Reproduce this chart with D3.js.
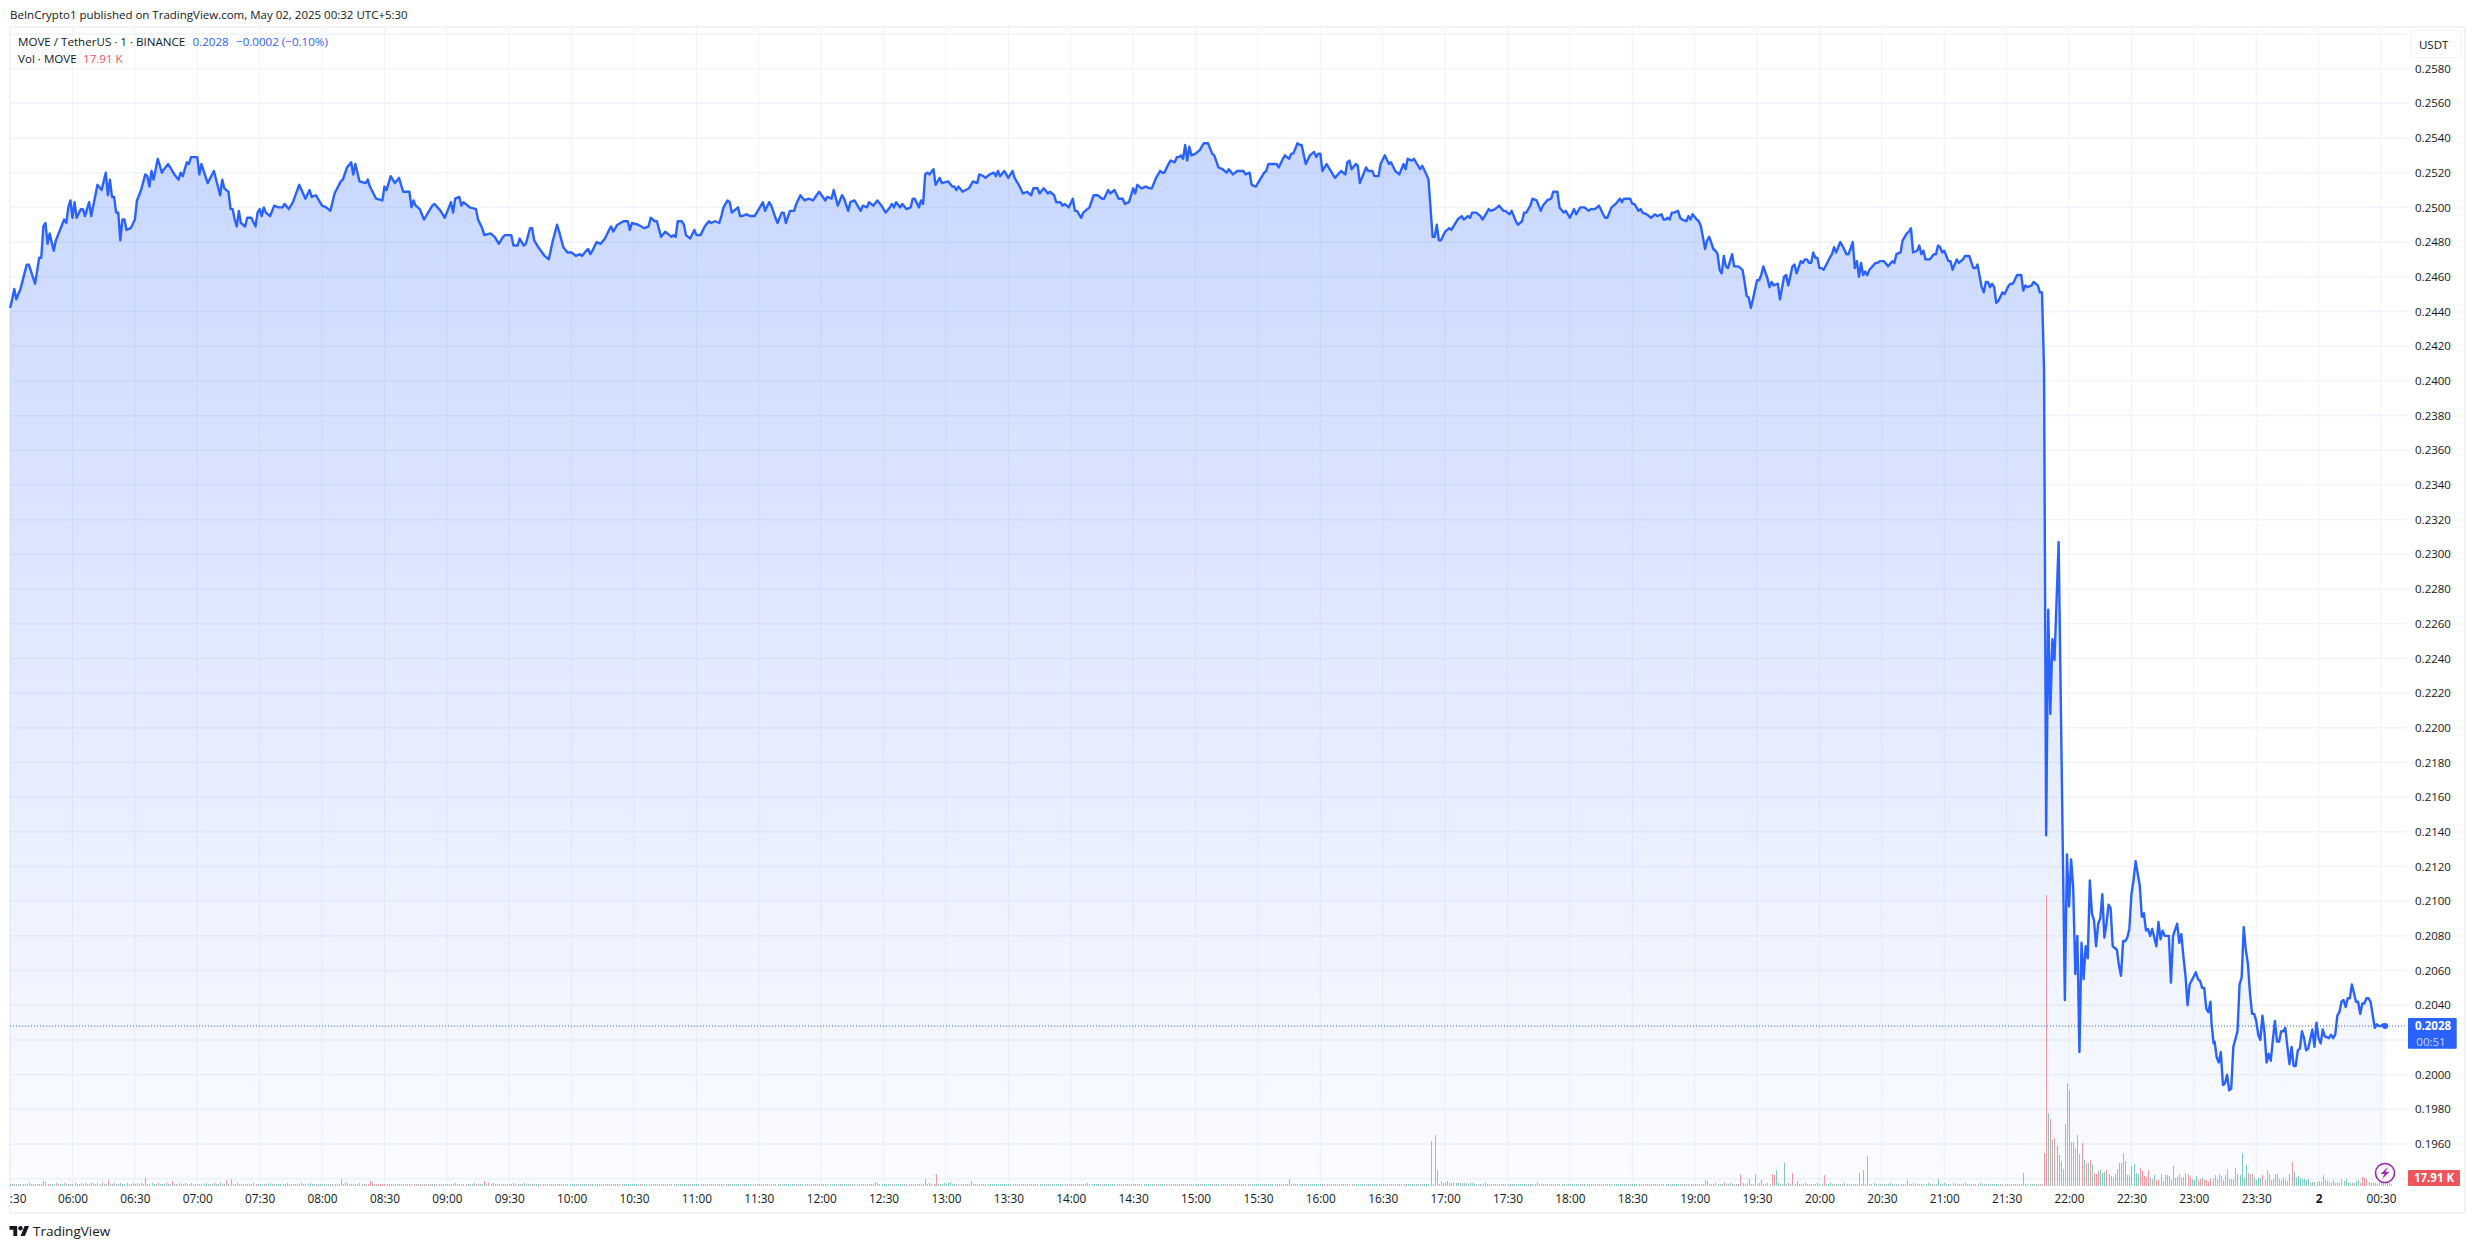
<!DOCTYPE html>
<html><head><meta charset="utf-8">
<script src="https://cdn.jsdelivr.net/npm/d3@7/dist/d3.min.js"></script>
<style>html,body{margin:0;padding:0;background:#fff}svg{display:block}text{font-family:"Open Sans",sans-serif;fill:#131722}</style>
</head><body><svg id="c" width="2475" height="1249"></svg>
<script>
// minute offset from 05:30, close price
const closeByMinute=[[0,.2442],[1,.2447],[2,.2453],[3,.2447],[5,.2453],[8,.2467],[9,.2467],[12,.2456],[14,.2471],[15,.2471],[16,.2489],[17,.2491],[18,.2479],[19,.2485],[21,.2475],[22,.2481],[26,.2493],[27,.2491],[28,.25],[29,.2504],[30,.2494],[31,.2503],[32,.2494],[34,.2499],[35,.2499],[36,.2495],[38,.2503],[39,.2495],[41,.2507],[42,.2513],[44,.251],[46,.252],[47,.2507],[48,.2516],[49,.2506],[50,.2506],[51,.2497],[52,.2497],[53,.2481],[54,.2493],[55,.2493],[56,.2487],[58,.2488],[60,.2493],[61,.2504],[63,.251],[65,.2519],[66,.2518],[67,.2512],[68,.2521],[69,.2516],[71,.2528],[73,.252],[74,.2522],[76,.2525],[78,.2521],[79,.2519],[81,.2516],[82,.252],[83,.2518],[85,.2526],[86,.2525],[87,.2529],[90,.2529],[91,.2519],[92,.2525],[95,.2514],[98,.2521],[101,.2507],[102,.2516],[103,.2511],[105,.2509],[106,.2499],[107,.2499],[108,.2493],[109,.2489],[110,.2498],[111,.2491],[113,.2489],[114,.2494],[116,.2494],[118,.2489],[119,.2497],[120,.2499],[121,.2495],[122,.25],[123,.2497],[125,.2495],[127,.2501],[129,.25],[131,.25],[132,.2502],[134,.2499],[136,.2503],[139,.2513],[142,.2505],[144,.251],[145,.2506],[147,.2507],[150,.2501],[152,.25],[154,.2498],[156,.2508],[159,.2515],[160,.2516],[162,.2523],[164,.2526],[165,.2519],[166,.2525],[168,.2515],[171,.2514],[172,.2516],[173,.2512],[176,.2505],[179,.2504],[180,.2512],[181,.251],[183,.2518],[185,.2514],[187,.2517],[189,.2509],[192,.2509],[193,.25],[194,.2504],[195,.2501],[197,.2499],[199,.2493],[201,.2497],[203,.2501],[204,.2502],[207,.2498],[209,.2494],[212,.2503],[213,.2497],[214,.2505],[216,.2506],[217,.2501],[218,.2503],[221,.25],[224,.2499],[225,.2493],[227,.2488],[228,.2484],[231,.2485],[233,.2483],[235,.2479],
[237,.2483],[238,.2484],[241,.2484],[242,.2478],[244,.2478],[245,.2482],[247,.2478],[248,.2479],[250,.2488],[251,.2488],[252,.2481],[254,.2477],[257,.2472],[259,.247],[261,.2481],[263,.249],[264,.2486],[266,.2477],[268,.2474],[270,.2474],[272,.2472],[274,.2473],[275,.2472],[277,.2475],[278,.2476],[279,.2473],[280,.2475],[282,.248],[284,.2479],[286,.2482],[288,.2487],[289,.2489],[290,.2486],[292,.249],[295,.2492],[297,.2492],[298,.2487],[299,.2491],[302,.249],[305,.2488],[307,.2489],[308,.2494],[310,.2492],[311,.2492],[313,.2483],[315,.2486],[318,.2483],[319,.2484],[320,.2483],[321,.2492],[323,.2492],[324,.249],[325,.2484],[327,.2482],[329,.2487],[330,.2484],[332,.2484],[334,.2489],[336,.2492],[337,.2491],[339,.2492],[341,.2491],[342,.2495],[343,.25],[345,.2504],[346,.2503],[347,.2497],[350,.25],[351,.2495],[352,.2495],[354,.2496],[356,.2495],[358,.2495],[360,.2499],[362,.2503],[363,.2498],[365,.2503],[366,.2501],[368,.2494],[369,.2491],[371,.2497],[372,.2497],[373,.2491],[375,.2498],[377,.2498],[378,.2502],[380,.2507],
[382,.2504],[384,.2505],[386,.2504],[389,.2509],[392,.2504],[393,.2506],[395,.2505],[396,.251],[398,.2501],[400,.2507],[401,.2505],[403,.2498],[404,.2503],[406,.2504],[409,.2498],[410,.2501],[412,.25],[413,.2503],[415,.2501],[417,.2504],[419,.2501],[421,.2497],[423,.25],[424,.2502],[425,.25],[426,.2503],[428,.25],[429,.2502],[431,.2499],[433,.25],[434,.2505],[435,.2505],[437,.25],[438,.2504],[439,.2502],[440,.2519],[441,.252],[442,.2519],[444,.2522],[445,.2513],[447,.2517],[448,.2514],[451,.2515],[453,.2512],[454,.2512],[455,.251],[456,.2512],[458,.2509],[461,.2511],[463,.2515],[465,.2514],[466,.2519],[468,.2518],[469,.2517],[471,.2519],[473,.252],[474,.2518],[475,.2521],[476,.2518],[478,.2521],[480,.2517],[482,.2521],[483,.2517],[485,.2513],[487,.2508],[489,.2509],[491,.2507],[492,.2511],[494,.2511],[495,.2508],[497,.2511],[499,.2508],[500,.2509],[502,.2507],[503,.2503],[505,.2503],[506,.2501],[507,.2502],[509,.25],[511,.2505],[512,.2498],[513,.2498],[515,.2494],[516,.2497],[518,.2499],[519,.25],[521,.2507],[523,.2507],[525,.2505],[526,.2505],[528,.251],[529,.2508],[531,.251],[533,.2505],[535,.2505],[536,.2502],[538,.2503],[540,.2511],[541,.2508],[542,.2513],[544,.2511],[546,.2512],[548,.2511],[549,.2511],[551,.2517],[553,.2521],[554,.252],[555,.252],[557,.2525],[558,.2527],[560,.2526],[561,.2529],[562,.2529],[563,.253],[564,.2528],[565,.2536],[566,.2527],[567,.2535],[568,.253],[570,.2531],[572,.2533],[574,.2537],[576,.2537],[578,.2531],[579,.253],[581,.2523],[583,.2522],[585,.252],[586,.2522],[588,.2519],[590,.2521],[593,.2521],[594,.2519],[596,.252],[597,.2513],[599,.2512],[601,.2516],[603,.252],[604,.2521],[605,.2525],[607,.2525],[609,.2525],[610,.2523],[612,.2528],[613,.253],[615,.2528],[616,.2531],[617,.2531],[619,.2537],[620,.2536],[621,.2536],[623,.2525],[625,.253],[627,.2532],[628,.2529],[629,.2531],[630,.2531],[631,.2521],[633,.2525],[635,.2521],[637,.2517],[640,.2521],[642,.2519],[643,.2526],[644,.2527],[645,.2522],[647,.2525],[648,.2524],[649,.2514],[652,.2523],[653,.2521],[655,.2521],[656,.2518],[658,.2518],[659,.2525],[661,.253],[663,.2525],[664,.2526],[666,.2521],[668,.2519],[670,.2525],[671,.2522],[672,.2528],[674,.2527],[675,.2528],[678,.2522],[679,.2524],[681,.2519],[682,.2516],[684,.2483],[685,.2483],[686,.249],[687,.2481],[688,.2481],[690,.2486],[692,.2488],[693,.2487],[696,.2493],[698,.2495],[699,.2493],[701,.2495],[702,.2494],[703,.2497],[705,.2497],[707,.2495],[708,.2493],[710,.2497],[711,.2499],[712,.2498],[714,.2499],[716,.2501],[718,.2498],[719,.2498],[721,.2496],[722,.2498],[724,.2492],[725,.249],[727,.2492],[728,.2497],[729,.2497],[731,.2501],[732,.2505],[734,.2504],[736,.2498],[737,.2501],[739,.2504],[741,.2505],[742,.2509],[744,.2509],[745,.25],[747,.2497],[748,.2498],[750,.2494],[752,.2499],[753,.2496],[755,.25],[757,.25],[759,.2498],[760,.2499],[762,.2499],[764,.2501],
[766,.2496],[767,.2494],[768,.2494],[770,.25],[772,.2502],[774,.2505],[775,.2503],[776,.2505],[779,.2505],[780,.2502],[781,.2502],[783,.2498],[784,.2499],[785,.2497],[787,.2496],[789,.2494],[791,.2496],[792,.2495],[794,.2496],[795,.2493],[796,.2493],[797,.2494],[798,.2493],[799,.2497],[800,.2497],[802,.2498],[803,.2494],[804,.2493],[806,.2492],[807,.2495],[808,.2493],[809,.2496],[811,.2493],[812,.2492],[813,.2489],[815,.2476],[816,.2481],[817,.2483],[819,.2476],[820,.2475],[821,.2473],[822,.2464],[823,.2462],[824,.2472],[825,.2466],[826,.2465],[828,.2473],[829,.2466],[831,.2466],[833,.2464],[834,.2457],[835,.2449],[836,.2448],[837,.2442],[838,.2447],[840,.2458],[841,.2458],[842,.2461],[843,.2466],[845,.2459],[846,.2454],[847,.2457],[848,.2455],[850,.2456],[851,.2447],[853,.246],[854,.2461],[855,.2455],[857,.2466],[858,.2467],[859,.2462],[861,.2469],[862,.2468],[863,.247],[864,.247],[865,.2468],[866,.2468],[867,.2474],[868,.2471],[869,.2471],[870,.2465],[871,.2465],[872,.2464],[875,.2471],[876,.2473],[877,.2477],[878,.2474],[880,.248],[881,.2478],[883,.2473],[884,.2473],[886,.248],[887,.2465],[888,.2469],[889,.246],[890,.2468],[891,.2461],[892,.2463],[893,.2461],[894,.2464],[897,.2468],[898,.2468],[899,.2469],[901,.2469],[903,.2466],[905,.2469],[906,.2468],[907,.2473],[909,.2474],[910,.2481],[912,.2485],[913,.2486],[914,.2488],[915,.2474],[917,.2475],[918,.2478],[919,.2473],[920,.2475],[921,.247],[923,.247],[925,.2473],[926,.2473],[927,.2478],[928,.2477],[929,.2474],[930,.2475],[932,.2469],[933,.2469],[934,.2464],[936,.247],[937,.2468],[939,.247],[940,.2472],[942,.2472],[944,.2465],[945,.2465],[946,.2467],[948,.2454],[949,.2451],[950,.2457],[951,.2457],[952,.2454],[953,.2456],[954,.2454],[955,.2445],[956,.2446],[958,.2451],[959,.245],[961,.2455],[962,.2456],[963,.2456],[965,.2461],[967,.2461],[968,.2452],[969,.2455],[970,.2454],[972,.2455],[973,.2457],[975,.2455],[976,.2451],[977,.2451],
[978,.2406],[979,.2138],[980,.2268],[981,.2208],[982,.2251],[983,.2239],[985,.2307],[987,.213],[988,.2043],[989,.2127],[990,.2097],[991,.2124],[992,.2108],[993,.2058],[994,.208],[995,.2013],[996,.2076],[997,.2055],[998,.2074],[999,.2067],[1000,.2112],[1001,.2093],[1002,.2089],[1003,.2074],[1004,.2087],[1005,.209],[1006,.2104],[1007,.2079],[1008,.2087],[1009,.2098],[1010,.2096],[1011,.2074],[1013,.2072],[1014,.2063],[1015,.2057],[1016,.2077],[1017,.2077],[1018,.2079],[1019,.2084],[1020,.2104],[1021,.2112],[1022,.2123],[1024,.2109],[1025,.2091],[1026,.2093],[1027,.2083],[1028,.2084],[1029,.208],[1030,.2084],[1032,.2074],[1033,.2088],[1034,.2078],[1035,.2083],[1036,.208],[1038,.208],[1039,.2053],[1040,.208],[1042,.2087],[1043,.2076],[1044,.2081],[1045,.2068],[1046,.2057],[1047,.204],[1048,.2052],[1051,.2059],[1052,.2055],[1053,.2054],[1054,.205],[1055,.205],[1056,.2038],[1057,.2036],[1058,.2042],[1058.5,.203],[1059.5,.2018],[1060,.2019],[1061,.201],[1062,.2007],[1063,.2013],[1064,.1994],[1065,.1995],[1066,.2],[1067,.1991],[1068,.1992],[1069,.2016],[1071,.2025],[1072,.2052],[1073,.2056],[1074,.2085],[1075,.2072],[1076,.2064],[1077,.2047],[1078,.2035],[1079,.2035],[1080,.2031],[1081,.2023],[1082,.202],[1083,.2034],[1084,.2024],[1085,.2007],[1086,.2012],[1087,.2008],[1088,.202],[1089,.2031],[1090,.2019],[1091,.2019],[1092,.2025],[1093,.2025],[1094,.2027],[1095,.2016],[1096,.2006],[1097,.2016],[1098,.2005],[1099,.2005],[1100,.2014],[1101,.2015],[1102,.2025],[1103,.2021],[1104,.2014],[1105,.2015],[1107,.2026],[1108,.2016],[1109,.203],[1110,.2021],[1111,.2018],[1112,.2026],[1113,.2022],[1115,.2021],[1116,.2023],[1117,.2021],[1118,.2023],[1119,.2034],[1120,.2036],[1121,.2042],[1122,.2043],[1123,.2039],[1124,.2044],[1125,.2044],[1126,.2052],[1128,.2042],[1129,.2042],[1130,.2035],[1131,.2041],[1132,.2041],[1133,.2044],[1134,.2044],[1135,.2042],[1137,.2027],[1138,.2029],[1139,.2028],[1140,.2028],[1141,.2029],[1142,.2028]];

// volume in thousands per minute; a negative value is a falling bar
const earlyVolumesK=[
21,-18,21,18,-21,18,21,-18,18,-25,21,-18,21,18,-21,18,56,42,-21,18,21,-18,28,-21,18,21,-25,18,21,-18,
18,25,-21,18,28,21,-25,18,21,28,-25,18,28,21,-25,18,21,-70,21,-18,25,21,-18,28,18,21,25,-18,21,28,
21,28,18,25,21,98,18,-21,25,18,21,-25,18,21,18,-25,21,18,-56,21,-18,32,-21,18,25,18,-21,28,18,21,
18,-21,18,21,25,-18,21,18,-25,18,21,42,-21,18,-70,21,-84,18,-21,25,18,21,18,-21,18,21,18,25,-18,21,
18,21,-18,21,18,25,18,-21,18,21,18,18,21,25,18,-21,18,21,18,21,25,18,-21,18,28,21,18,-21,18,21,
18,21,-18,21,18,-21,18,21,-18,84,21,42,25,-18,21,18,-21,18,25,18,-21,18,-21,-56,-28,-18,21,-21,-18,-21,
-18,-21,-18,21,-18,-21,18,-18,-21,-18,18,-21,-18,21,-18,18,-21,18,-18,21,-18,21,-18,18,21,-18,21,18,-21,18,
18,-21,18,21,-25,18,21,-18,18,-21,18,21,-18,28,18,-21,18,21,-56,21,-28,18,-25,21,18,21,-18,21,18,-21,
18,21,-25,18,-21,18,21,28,-18,21,18,-21,18,21,18,-21,18,21,-18,18,21,18,-21,18,21,18,-21,18,14,18,
14,18,14,-18,14,18,14,18,-14,18,14,18,14,-18,14,18,14,14,18,-14,14,18,14,18,-14,14,18,14,18,14,
14,18,14,-14,18,14,14,18,-14,14,18,14,14,-18,14,14,18,14,14,18,-14,14,14,18,14,14,-18,14,14,18,
14,18,14,14,-18,14,14,18,14,-14,14,18,14,14,18,-14,14,14,18,14,14,18,-14,14,14,18,14,14,18,-14,
14,14,18,14,14,-18,14,14,14,18,14,-14,14,14,18,14,14,18,-14,14,14,18,14,14,-14,18,14,14,14,18,
14,14,-18,14,14,18,14,14,-14,18,14,14,18,14,-14,14,18,14,14,18,14,-14,14,14,18,14,42,28,-14,18,
14,14,18,14,-14,14,18,14,14,18,14,-14,14,18,14,14,18,14,-14,14,84,21,28,14,-18,-154,14,18,21,28,
21,28,42,18,21,14,-18,18,14,21,14,18,-56,14,18,14,14,18,14,-14,14,18,14,14,18,14,14,18,14,14,
18,14,14,-14,18,14,14,14,18,14,14,18,-14,14,14,21,14,14,18,-14,21,14,14,18,14,14,18,14,21,-14,
14,14,18,-21,14,14,18,14,-28,14,14,18,21,14,14,-18,14,14,18,14,21,14,-14,14,18,14,14,18,14,14,
14,18,-14,14,14,18,14,21,14,14,18,-14,14,18,14,14,-14,18,14,14,18,14,14,18,-14,21,14,18,14,14,
18,14,-14,14,18,14,14,18,14,-14,14,21,14,18,14,14,18,14,-14,14,18,14,14,21,14,-14,18,14,14,18,
14,14,18,14,-14,14,18,14,14,18,14,-14,14,14,18,84,21,14,18,14,21,14,14,-21,14,18,14,14,21,14,
18,14,-21,14,18,14,14,21,-14,14,18,14,21,14,14,-18,14,14,21,14,18,14,-14,14,18,14,14,18,14,14,
18,14,14,18,-14,14,14,18,14,14,-14,18,14,14,14,18,14,14,-14,14,14,18,14,-616,14,-700,210,18,-56,28,
28,56,28,28,42,28,28,35,28,-28,28,21,28,35,21,21,-21,14,21,28,21,14,14,21,14,-14,14,14,21,14,
14,14,-14,14,14,21,14,14,14,14,-21,14,14,14,-42,-21,14,14,21,14,-14,14,14,14,21,14,14,14,-21,14,
14,14,21,14,14,-14,14,14,14,21,14,14,14,-14,14,21,14,14,14,14,-21,14,14,14,14,21,14,14,-14,14,
14,21,14,14,-14,14,14,14,21,14,14,-14,14,14,21,14,14,14,-14,14,14,21,14,14,-14,14,14,-21,14,14,
14,-21,14,-21,14,-70,-56,14,-21,14,-28,14,21,-14,-42,14,21,-28,14,21,-14,14,-154,28,14,-35,-84,14,21,-154,
21,-28,70,21,14,-28,21,-154,-140,210,28,14,-21,308,21,-28,14,-168,21,56,14,-21,14,28,-14,21,14,-21,14,28,
14,21,-140,14,21,42,14,-21,14,21,14,-21,28,14,-21,14,21,-14,21,-168,21,-210,14,-406,21,-14,28,14,-21,14,
21,14,-21,14,28,14,21,-14,14,21,14,-21,70,21,14,28,-14,21,14,21,-21,14,28,14,21,-14,14,84,21,14,
28,-14,21,14,28,14,-21,14,21,14,28,-14,21,14,21,14,-21,28,14,21,14,-14,21,14,21,14,14,-21,14,14,
14,14,14,21,14,-14,14,21,-168,21,14,14,21,14,-21,14,-21,14];
const lateVolumeStart=978;
const lateVolumesK=[-453,-4060,1004,-920,630,-663,546,420,336,-219,-850,-1424,1326,-602,602,-523,-696,430,-593,346,-313,313,-346,290,-173,-149,-196,205,173,182,-205,149,126,-103,-149,-219,303,-303,-453,336,140,140,266,290,163,149,-233,-196,-126,-117,-210,103,-89,135,-65,-65,149,-56,140,135,-126,65,-266,103,112,-159,103,-117,173,-149,-110,79,70,126,-70,-89,103,-89,-65,-42,-89,-89,-135,89,-149,-126,65,-135,219,89,79,89,233,149,140,453,103,275,-163,149,-149,103,65,103,103,-135,70,-205,-149,65,79,149,149,-79,-65,103,-70,-56,-149,-327,187,100,126,103,79,79,65,79,-33,47,47,47,56,47,-135,-65,56,-42,-33,65,-33,47,-33,79,56,89,33,33,-33,33,56,65,-33,-117,-103,-89,42,33,33,33,21,-42,-89,-42,-42,-23,23,-18];

const priceTicks=[0.2580,0.2560,0.2540,0.2520,0.2500,0.2480,0.2460,0.2440,0.2420,0.2400,0.2380,0.2360,0.2340,0.2320,0.2300,0.2280,0.2260,0.2240,0.2220,0.2200,0.2180,0.2160,0.2140,0.2120,0.2100,0.2080,0.2060,0.2040,0.2000,0.1980,0.1960];
const gridPrices=[0.2600,...priceTicks,0.2020,0.1940];
const timeLabels=[":30","06:00","06:30","07:00","07:30","08:00","08:30","09:00","09:30","10:00","10:30","11:00","11:30","12:00","12:30","13:00","13:30","14:00","14:30","15:00","15:30","16:00","16:30","17:00","17:30","18:00","18:30","19:00","19:30","20:00","20:30","21:00","21:30","22:00","22:30","23:00","23:30","2","00:30"];
const timeTickMinutes=timeLabels.map((_,i)=>i*30);
const lastPrice=0.2028;

const BLUE="#2962FF",GRID="#f0f3fa";
const svg=d3.select("#c");
const x=d3.scaleLinear().domain([0,1110]).range([10.1,2318.6]);
const y=d3.scaleLinear().domain([0.196,0.254]).range([1144,138]);
const volY=d3.scaleLinear().domain([0,4060]).range([1186,896]);
const plotL=10,plotR=2407,plotB=1186;

svg.append("rect").attr("x",10).attr("y",27).attr("width",2455).attr("height",1186).attr("fill","#fff").attr("stroke",GRID).attr("stroke-width",2);
const defs=svg.append("defs");
const grad=defs.append("linearGradient").attr("id","g").attr("gradientUnits","userSpaceOnUse").attr("x1",0).attr("x2",0).attr("y1",y(0.2537)).attr("y2",plotB);
grad.append("stop").attr("offset",0).attr("stop-color",BLUE).attr("stop-opacity",.25);
grad.append("stop").attr("offset",1).attr("stop-color",BLUE).attr("stop-opacity",.02);

svg.append("g").selectAll("line").data(timeTickMinutes).join("line")
 .attr("x1",d=>x(d)).attr("x2",d=>x(d)).attr("y1",28).attr("y2",plotB).attr("stroke",GRID).attr("stroke-width",1);
svg.append("g").selectAll("line").data(gridPrices).join("line")
 .attr("x1",plotL).attr("x2",plotR).attr("y1",d=>y(d)).attr("y2",d=>y(d)).attr("stroke",GRID).attr("stroke-width",1.4);

svg.append("path").datum(closeByMinute).attr("fill","url(#g)")
 .attr("d",d3.area().x(d=>x(d[0])).y0(plotB).y1(d=>y(d[1])));

const vols=[...earlyVolumesK.map((v,i)=>({m:i,v})),...lateVolumesK.map((v,i)=>({m:lateVolumeStart+i,v}))];
svg.append("g").attr("shape-rendering","crispEdges").selectAll("rect").data(vols).join("rect")
 .attr("x",d=>Math.round(x(d.m))).attr("width",1).attr("y",d=>volY(Math.abs(d.v))-1).attr("height",d=>plotB-volY(Math.abs(d.v))+1)
 .attr("fill",d=>d.v<0?"rgba(242,54,69,.5)":"rgba(8,153,129,.5)");

svg.append("line").attr("x1",plotL).attr("x2",plotR).attr("y1",y(lastPrice)).attr("y2",y(lastPrice))
 .attr("stroke",BLUE).attr("stroke-width",1).attr("stroke-dasharray","1 2");

svg.append("path").datum(closeByMinute).attr("fill","none").attr("stroke",BLUE).attr("stroke-width",2.4).attr("stroke-linejoin","round")
 .attr("d",d3.line().x(d=>x(d[0])).y(d=>y(d[1])));
const lastPt=closeByMinute[closeByMinute.length-1];
svg.append("circle").attr("cx",x(lastPt[0])).attr("cy",y(lastPt[1])).attr("r",3).attr("fill",BLUE);

// axes
const yAxis=d3.axisRight(y).tickValues(priceTicks).tickFormat(d3.format(".4f")).tickSize(0).tickPadding(0);
const gy=svg.append("g").attr("transform","translate(2433,0)").call(yAxis);
gy.select(".domain").remove();
gy.selectAll("text").attr("x",0).attr("text-anchor","middle").style("font-size","11.5px").style("font-family",'"Open Sans",sans-serif').style("fill","#131722");
const xAxis=d3.axisBottom(x).tickValues(timeTickMinutes).tickFormat((d,i)=>timeLabels[i]).tickSize(0).tickPadding(0);
const gx=svg.append("g").attr("transform","translate(0,1195)").call(xAxis);
gx.select(".domain").remove();
gx.selectAll("text").style("font-size","11.8px").style("font-family",'"Open Sans",sans-serif').style("fill","#131722").style("font-weight",d=>timeLabels[d/30]==="2"?"700":"400");
gx.selectAll("text").filter(d=>d===0).attr("x",7.5);

function t(px,py,s,o={}){return svg.append("text").attr("x",px).attr("y",py).text(s)
 .style("font-size",(o.size||11.6)+"px").style("fill",o.fill||"#131722").style("font-weight",o.weight||400).attr("text-anchor",o.anchor||"start");}
t(10,19,"BeInCrypto1 published on TradingView.com, May 02, 2025 00:32 UTC+5:30",{size:11.5});
t(18,46,"MOVE / TetherUS · 1 · BINANCE");
t(192.5,46,"0.2028",{fill:BLUE});
t(236,46,"−0.0002 (−0.10%)",{fill:BLUE});
t(18,63,"Vol · MOVE");
t(83,63,"17.91 K",{fill:"#f7525f"});

// USDT badge
svg.append("rect").attr("x",2410.5).attr("y",30.5).attr("width",51).attr("height",27).attr("rx",4).attr("fill","#fff").attr("stroke",GRID);
t(2433.7,49,"USDT",{anchor:"middle"});

// last-price label
svg.append("rect").attr("x",2408).attr("y",1018).attr("width",48.7).attr("height",30.7).attr("rx",1).attr("fill",BLUE);
t(2433,1029.5,"0.2028",{anchor:"middle",fill:"#fff",weight:700,size:11.5});
t(2431,1045.5,"00:51",{anchor:"middle",fill:"rgba(255,255,255,.75)",size:11.5});

// volume label
svg.append("rect").attr("x",2408).attr("y",1170).attr("width",52).attr("height",16).attr("rx",1).attr("fill","#f0545b");
t(2434,1182,"17.91 K",{anchor:"middle",fill:"#fff",weight:700,size:11.5});

// flash icon
const ic=svg.append("g").attr("transform","translate(2385,1173)");
ic.append("circle").attr("r",9.5).attr("fill","#fff").attr("stroke","#9c27b0").attr("stroke-width",1.6);
ic.append("path").attr("d","M3 -6 L-4.5 1 L-0.5 1 L-3 6 L4.5 -1.2 L0.5 -1.2 Z").attr("fill","#9c27b0");

// footer logo
const logo=svg.append("g").attr("transform","translate(9.5,1223.8) scale(.55)").attr("fill","#131722");
logo.append("path").attr("d","M14 22H7V11H0V4h14v18zM28 22h-8l7.5-18h8L28 22z");
logo.append("circle").attr("cx",20).attr("cy",8).attr("r",4);
t(33,1236,"TradingView",{size:13.5});
</script></body></html>
